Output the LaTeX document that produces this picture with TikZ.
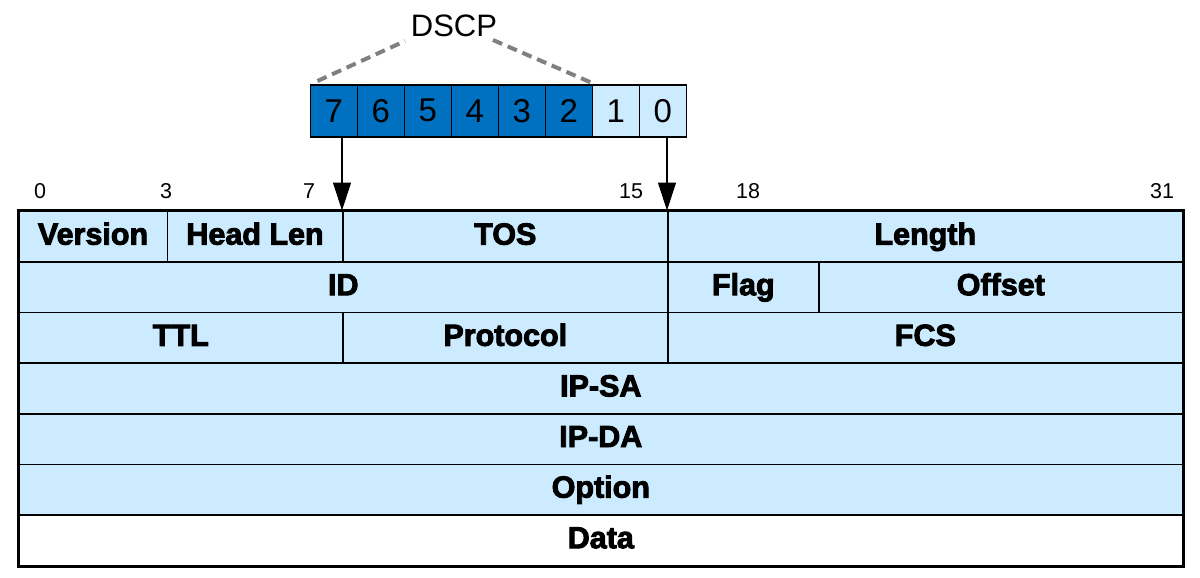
\documentclass[tikz,border=0pt]{standalone}
\usepackage{fontspec}
\setmainfont{Liberation Sans}
\newfontfamily\heavy{Liberation Sans}[BoldFeatures={FakeBold=3}]
\usetikzlibrary{arrows.meta}
\definecolor{lightblue}{RGB}{204,235,255}
\definecolor{darkblue}{RGB}{0,112,192}
\definecolor{dashgray}{RGB}{128,128,128}
\begin{document}
\begin{tikzpicture}[x=1pt,y=-1pt,
  cell/.style={draw=black, line width=1.6pt, fill=lightblue, anchor=north west, inner sep=0pt,
    minimum height=50.6pt, text height=23pt, text depth=7pt,
    font=\heavy\bfseries\fontsize{30.5}{33}\selectfont},
  whitecell/.style={cell, fill=white},
  bitbox/.style={draw=black, line width=1.6pt, anchor=north west, inner sep=0pt,
    minimum width=47pt, minimum height=52pt, font=\fontsize{33}{36}\selectfont},
  dark/.style={bitbox, fill=darkblue},
  light/.style={bitbox, fill=lightblue},
  bitnum/.style={font=\fontsize{21.5}{24}\selectfont, inner sep=0pt},
  pointer/.style={line width=1.2pt, -{Triangle[width=18pt,length=28pt]}},
  dscpline/.style={dashgray, line width=4pt, dash pattern=on 10pt off 6pt}
]
\useasboundingbox (0,0) rectangle (1200,578);

% DSCP byte
\node[dark]  (b7) at (309.5,84) {7};
\node[dark]  (b6) at (356.5,84) {6};
\node[dark]  (b5) at (403.5,84) {5};
\node[dark]  (b4) at (450.5,84) {4};
\node[dark]  (b3) at (497.5,84) {3};
\node[dark]  (b2) at (544.5,84) {2};
\node[light] (b1) at (591.5,84) {1};
\node[light] (b0) at (638.5,84) {0};

\node[font=\fontsize{31}{34}\selectfont, inner sep=0pt] (dscp) at (454,26) {DSCP};
\coordinate (dl) at (405,41);
\coordinate (dr) at (493,40);
\draw[dscpline] ([shift={(8,-3)}]b7.north west) -- (dl);
\draw[dscpline] (dr) -- ([shift={(-1,-1)}]b2.north east);

% bit numbers
\node[bitnum] (n0)  at (40,191)   {0};
\node[bitnum] (n3)  at (166,191)  {3};
\node[bitnum] (n7)  at (309,191)  {7};
\node[bitnum] (n15) at (631,191)  {15};
\node[bitnum] (n18) at (748,191)  {18};
\node[bitnum] (n31) at (1162,191) {31};

% header rows
\node[cell, minimum width=148.5pt] (ver) at (18,210.5)  {Version};
\node[cell, minimum width=175.5pt] (hl)  at (166.5,210.5) {Head Len};
\node[cell, minimum width=325pt]   (tos) at (342,210.5) {TOS};
\node[cell, minimum width=515pt]   (len) at (667,210.5) {Length};

\node[cell, minimum width=649pt]   (id)   at (18,261.1)  {ID};
\node[cell, minimum width=151pt]   (flag) at (667,261.1) {Flag};
\node[cell, minimum width=364pt]   (off)  at (818,261.1) {Offset};

\node[cell, minimum width=324pt]   (ttl)  at (18,311.7)  {TTL};
\node[cell, minimum width=325pt]   (prot) at (342,311.7) {Protocol};
\node[cell, minimum width=515pt]   (fcs)  at (667,311.7) {FCS};

\node[cell, minimum width=1164pt]  (sa)   at (18,362.3)  {IP-SA};
\node[cell, minimum width=1164pt]  (da)   at (18,412.9)  {IP-DA};
\node[cell, minimum width=1164pt]  (opt)  at (18,463.5)  {Option};
\node[whitecell, minimum width=1164pt] (data) at (18,514.1) {Data};

\draw[line width=2.4pt] (ver.north west) rectangle (data.south east);

% pointers
\draw[pointer] (b7.south -| tos.north west) -- (tos.north west);
\draw[pointer] (b0.south -| len.north west) -- (len.north west);
\end{tikzpicture}
\end{document}
